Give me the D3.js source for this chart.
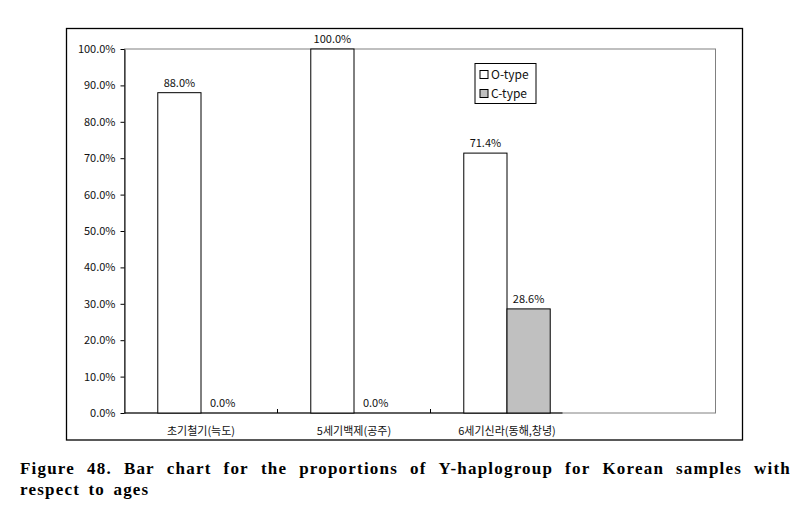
<!DOCTYPE html>
<html>
<head>
<meta charset="utf-8">
<script src="https://cdn.jsdelivr.net/npm/d3@7"></script>
<style>
  body { margin: 0; background: #fff; }
  text { font-family: "Noto Sans CJK KR", "Noto Sans", sans-serif; }
  text.caption { font-family: "Liberation Serif", "DejaVu Serif", serif; }
</style>
</head>
<body>
<div id="chart"></div>
<script>
// data
const categories = ['초기철기(늑도)', '5세기백제(공주)', '6세기신라(동해,창녕)'];
const series = ['O-type', 'C-type'];
const oType = [0.880, 1.000, 0.714];
const cType = [0.000, 0.000, 0.286];
const yTicks = [0, 0.1, 0.2, 0.3, 0.4, 0.5, 0.6, 0.7, 0.8, 0.9, 1.0];
const seriesColors = ['#ffffff', '#c0c0c0'];
const captionLines = [
    'Figure 48. Bar chart for the proportions of Y-haplogroup for Korean samples with',
    'respect to ages'
];

(function(){
    const margin = { top: 49, left: 124.5, bottom: 99, right: 90.5 };
    const width = 806 - margin.left - margin.right;
    const height = 512 - margin.top - margin.bottom;
    const catSpan = 459; // categories only fill the left part of the plot

    const root = d3.select('#chart')
        .append('svg')
            .attr('width', 806)
            .attr('height', 512);

    // outer chart frame
    root.append('rect')
        .attr('x', 66.5).attr('y', 28.5)
        .attr('width', 676).attr('height', 411.5)
        .attr('fill', 'none')
        .attr('stroke', '#000')
        .attr('stroke-width', 1.3);

    const svg = root.append('g')
        .attr('transform', `translate(${margin.left}, ${margin.top})`);

    // plot area border
    svg.append('rect')
        .attr('width', width).attr('height', height)
        .attr('fill', 'none')
        .attr('stroke', '#808080');

    const yScale = d3.scaleLinear()
        .domain([0, 1])
        .range([height, 0]);

    const x0 = d3.scaleBand()
        .domain(categories)
        .range([0, catSpan]);

    const x1 = d3.scaleBand()
        .domain(series)
        .range([0, x0.bandwidth()])
        .paddingOuter(0.77);

    const yAxis = d3.axisLeft(yScale)
        .tickValues(yTicks)
        .tickFormat(d3.format('.1%'))
        .tickSizeInner(4)
        .tickSizeOuter(0)
        .tickPadding(5);

    const gy = svg.append('g').call(yAxis);
    gy.select('.domain').attr('stroke', '#000');
    gy.selectAll('text')
        .attr('font-size', 11)
        .attr('fill', '#111')
        .style('font-family', '"Noto Sans CJK KR", sans-serif');

    // category axis
    const gx = svg.append('g')
        .attr('transform', `translate(0, ${height})`);
    gx.append('line')
        .attr('x1', 0).attr('x2', 438)
        .attr('stroke', '#000');
    gx.selectAll('line.tick')
        .data(categories.slice(0, 2))
        .enter()
        .append('line')
            .attr('class', 'tick')
            .attr('x1', d => x0(d) + x0.step())
            .attr('x2', d => x0(d) + x0.step())
            .attr('y1', 0).attr('y2', -4)
            .attr('stroke', '#000');
    gx.selectAll('text.cat')
        .data(categories)
        .enter()
        .append('text')
            .attr('class', 'cat')
            .attr('x', d => x0(d) + x0.bandwidth() / 2)
            .attr('y', 22)
            .attr('text-anchor', 'middle')
            .attr('font-size', 11)
            .attr('fill', '#111')
            .text(d => d);

    const rows = categories.map((c, i) => ({
        cat: c,
        values: [
            { key: series[0], value: oType[i] },
            { key: series[1], value: cType[i] }
        ]
    }));

    const groups = svg.selectAll('g.grp')
        .data(rows)
        .enter()
        .append('g')
            .attr('class', 'grp')
            .attr('transform', d => `translate(${x0(d.cat)}, 0)`);

    groups.selectAll('rect')
        .data(d => d.values)
        .enter()
        .append('rect')
            .attr('x', d => x1(d.key))
            .attr('y', d => yScale(d.value))
            .attr('width', x1.bandwidth())
            .attr('height', d => height - yScale(d.value))
            .attr('fill', (d, i) => seriesColors[i])
            .attr('stroke', '#000')
            .attr('stroke-width', 1);

    groups.selectAll('text')
        .data(d => d.values)
        .enter()
        .append('text')
            .attr('x', d => x1(d.key) + x1.bandwidth() / 2)
            .attr('y', d => yScale(d.value) - 6)
            .attr('text-anchor', 'middle')
            .attr('font-size', 11)
            .attr('fill', '#111')
            .text(d => d3.format('.1%')(d.value));

    // legend
    const legend = svg.append('g')
        .attr('transform', `translate(${350.5}, ${14.5})`);
    legend.append('rect')
        .attr('width', 61).attr('height', 40)
        .attr('fill', '#fff')
        .attr('stroke', '#000');
    const li = legend.selectAll('g.item')
        .data(series)
        .enter()
        .append('g')
            .attr('class', 'item')
            .attr('transform', (d, i) => `translate(5, ${7 + i * 19})`);
    li.append('rect')
        .attr('width', 8).attr('height', 8)
        .attr('fill', (d, i) => seriesColors[i])
        .attr('stroke', '#000');
    li.append('text')
        .attr('x', 11).attr('y', 8.5)
        .attr('font-size', 12)
        .attr('fill', '#111')
        .text(d => d);

    // caption, first line justified
    const cap = root.append('g');
    const capText = (x, y, s) => cap.append('text')
        .attr('class', 'caption')
        .attr('x', x).attr('y', y)
        .attr('font-weight', 'bold')
        .attr('font-size', 17)
        .attr('letter-spacing', 1.2)
        .attr('fill', '#000')
        .text(s);
    captionLines.forEach((line, k) => {
        const y = 474 + k * 21;
        if (k === captionLines.length - 1) {
            capText(20, y, line).attr('word-spacing', 3);
            return;
        }
        const words = line.split(' ');
        const nodes = words.map(w => capText(0, y, w));
        const widths = nodes.map(n => n.node().getComputedTextLength());
        const gap = (791 - 20 - d3.sum(widths)) / (words.length - 1);
        let x = 20;
        nodes.forEach((n, i) => {
            n.attr('x', x);
            x += widths[i] + gap;
        });
    });
}())
</script>
</body>
</html>
